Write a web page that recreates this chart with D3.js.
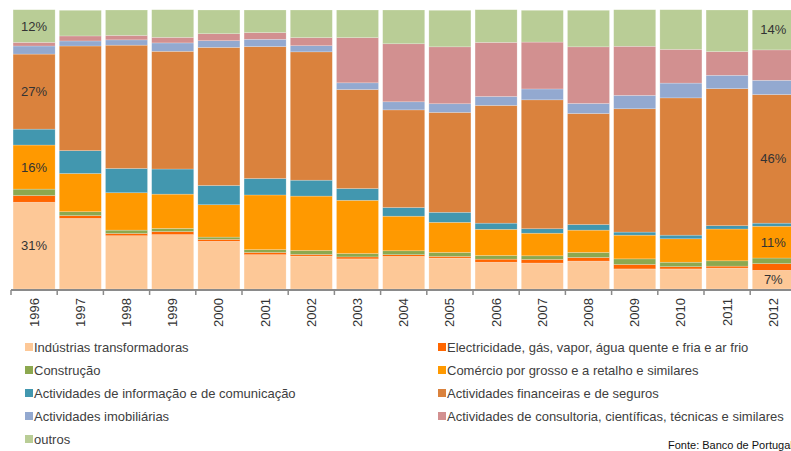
<!DOCTYPE html>
<html><head><meta charset="utf-8">
<script src="https://cdn.jsdelivr.net/npm/d3@7/dist/d3.min.js"></script>
<style>body{margin:0;background:#fff}svg{display:block}</style>
</head><body><svg id="c" width="791" height="451"></svg>
<script>
const years = ["1996","1997","1998","1999","2000","2001","2002","2003","2004","2005","2006","2007","2008","2009","2010","2011","2012"];
const seriesNames = ["Indústrias transformadoras","Electricidade, gás, vapor, água quente e fria e ar frio","Construção","Comércio por grosso e a retalho e similares","Actividades de informação e de comunicação","Actividades financeiras e de seguros","Actividades imobiliárias","Actividades de consultoria, científicas, técnicas e similares","outros"];
const colors = ["#FDC897","#FF6600","#8CA84F","#FF9900","#4297AF","#DA823D","#93A9D0","#D29090","#B9CD96"];
const industrias   = [31.1,25.3,19.1,19.5,17.1,12.3,11.8,10.8,11.7,11.1,9.6,9.3,10.0,7.2,7.2,7.5,6.7];
const electricidade= [2.4,1.0,0.8,1.1,0.7,0.8,0.6,0.7,0.6,0.6,1.1,1.3,1.3,1.6,0.8,0.7,2.4];
const construcao   = [2.3,1.4,1.2,1.1,0.8,1.0,1.4,1.2,1.4,1.4,1.3,1.3,1.8,2.0,1.6,1.9,2.0];
const comercio     = [15.8,13.7,13.4,12.3,11.6,19.6,19.5,19.1,12.4,10.8,9.4,8.1,8.0,8.5,8.4,11.4,11.4];
const informacao   = [5.7,8.2,8.7,9.0,6.9,5.9,5.7,4.2,3.1,3.6,2.2,1.6,2.0,1.1,1.3,1.2,1.1];
const financeiras  = [26.9,37.5,44.2,42.2,49.5,47.3,46.0,35.5,35.0,35.8,42.2,46.2,39.8,44.2,49.2,49.1,46.1];
const imobiliarias = [2.9,1.8,1.9,3.0,2.4,2.6,2.2,2.4,2.9,3.1,3.2,3.9,3.6,4.8,5.3,4.8,5.1];
const consultoria  = [1.3,1.8,1.6,2.0,2.5,2.4,2.9,16.2,20.8,20.4,19.4,16.8,20.3,17.6,12.1,8.5,10.9];
const outros       = [11.7,9.2,9.1,9.9,8.5,8.1,9.9,9.9,12.1,13.1,11.7,11.4,13.1,13.1,14.2,14.9,14.3];
const labelYears = ["1996","2012"];
const labelText = {"1996":{0:"31%",3:"16%",5:"27%",8:"12%"},"2012":{0:"7%",3:"11%",5:"46%",8:"14%"}};
const source = "Fonte: Banco de Portugal";

const seriesArrays = [industrias,electricidade,construcao,comercio,informacao,financeiras,imobiliarias,consultoria,outros];
const keys = seriesNames;
const rows = years.map((y,i)=>{const r={year:y};keys.forEach((k,j)=>r[k]=seriesArrays[j][i]);return r;});
const stack = d3.stack().keys(keys)(rows);

const svg = d3.select("#c");
const font = "'Liberation Sans', Arial, sans-serif";
const x = d3.scaleBand().domain(years).range([11, 796.4]).paddingInner(0.09).paddingOuter(0.045);
const y = d3.scaleLinear().domain([0,100]).range([289,10]);
const color = d3.scaleOrdinal().domain(keys).range(colors);
const gap = (x.step()-x.bandwidth())/2;

const g = svg.append("g");
g.selectAll("g.s").data(stack).join("g").attr("class","s")
  .attr("fill",d=>color(d.key))
  .selectAll("rect").data(d=>d).join("rect")
  .attr("x",d=>x(d.data.year)).attr("width",x.bandwidth())
  .attr("y",d=>y(d[1])).attr("height",d=>y(d[0])-y(d[1]))
  .attr("stroke","#ffffff").attr("stroke-opacity",0.35).attr("stroke-width",0.6);

// labels
stack.forEach((s,si)=>{
  labelYears.forEach(yr=>{
    const t = labelText[yr][si];
    if(!t) return;
    const d = s.find(p=>p.data.year===yr);
    svg.append("text").attr("x",x(yr)+x.bandwidth()/2).attr("y",(y(d[0])+y(d[1]))/2)
      .attr("text-anchor","middle").attr("dominant-baseline","central")
      .attr("font-family",font).attr("font-size",13).attr("fill","#333")
      .text(t);
  });
});

// x axis
const ax = svg.append("g");
ax.append("line").attr("x1",x.range()[0]).attr("x2",x.range()[1]).attr("y1",290).attr("y2",290)
  .attr("stroke","#8a8a8a").attr("stroke-width",2);
ax.selectAll("line.t").data(years).join("line").attr("class","t")
  .attr("x1",d=>x(d)-gap).attr("x2",d=>x(d)-gap).attr("y1",290).attr("y2",295)
  .attr("stroke","#8a8a8a").attr("stroke-width",1.5);
ax.selectAll("text").data(years).join("text")
  .attr("transform",d=>`translate(${x(d)+x.bandwidth()/2},298) rotate(-90)`)
  .attr("text-anchor","end").attr("dominant-baseline","central")
  .attr("font-family",font).attr("font-size",13).attr("fill","#333").text(d=>d);

// legend
const leg = svg.append("g");
const legPos = keys.map((k,i)=>({k, col:i%2, row:Math.floor(i/2)}));
const colX = [25, 438];
leg.selectAll("g").data(legPos).join("g")
  .attr("transform",d=>`translate(${colX[d.col]},${347+d.row*23})`)
  .each(function(d){
    const s = d3.select(this);
    s.append("rect").attr("x",0).attr("y",-4).attr("width",8).attr("height",8).attr("fill",color(d.k));
    s.append("text").attr("x",9).attr("y",0).attr("dominant-baseline","central")
      .attr("font-family",font).attr("font-size",13).attr("fill","#404040").text(d.k);
  });

svg.append("text").attr("x",668).attr("y",445).attr("dominant-baseline","central")
  .attr("font-family",font).attr("font-size",11).attr("fill","#111").text(source);
</script></body></html>
